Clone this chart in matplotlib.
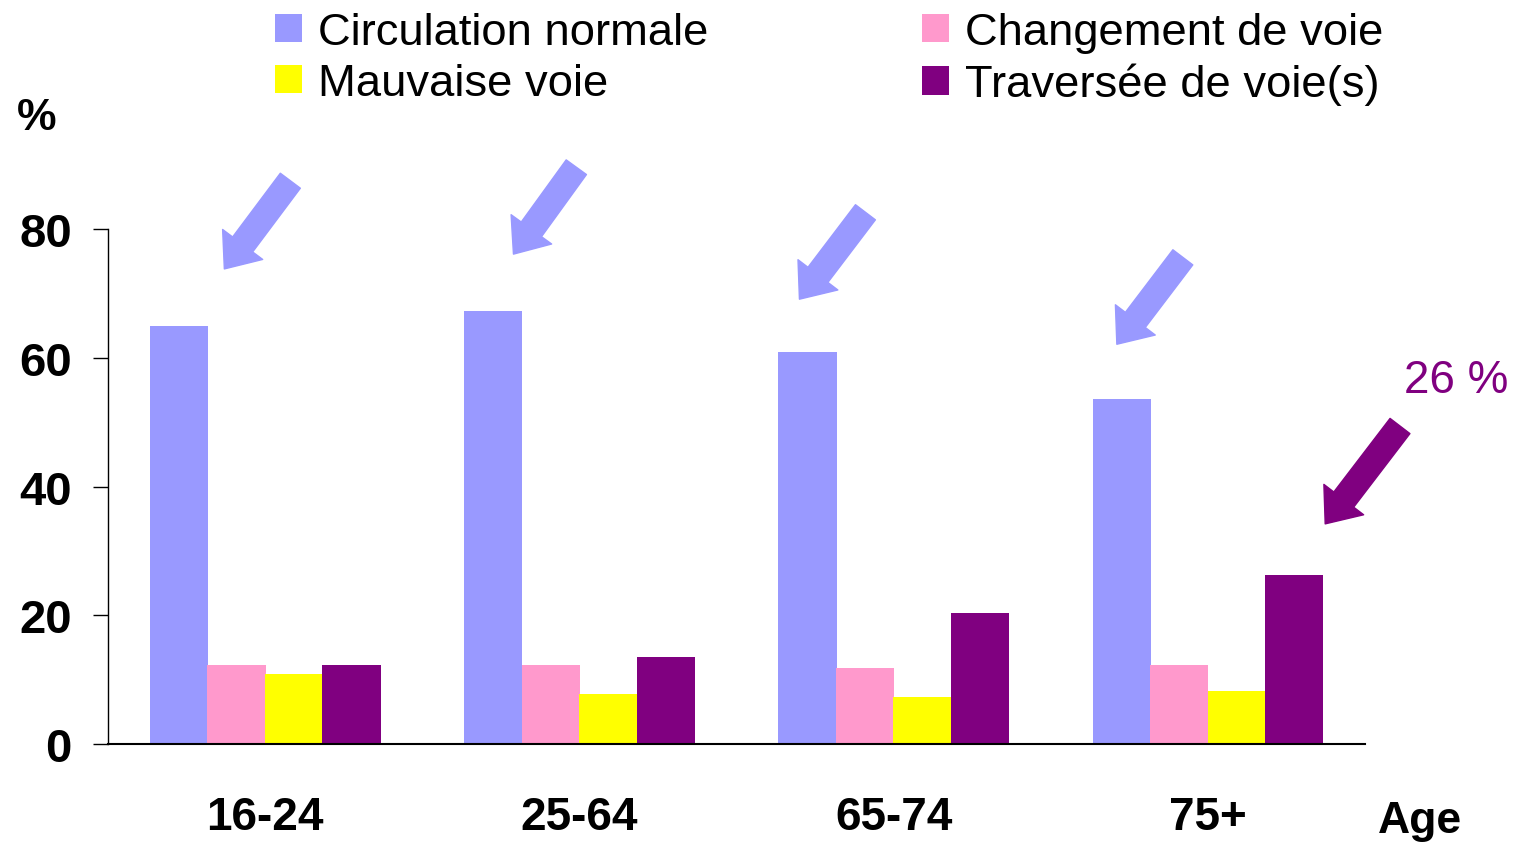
import matplotlib
matplotlib.use("Agg")
import matplotlib.pyplot as plt
import numpy as np

plt.rcParams['font.family'] = ['Liberation Sans', 'DejaVu Sans']

ages = ["16-24", "25-64", "65-74", "75+"]
series = ["Circulation normale", "Changement de voie", "Mauvaise voie", "Traversée de voie(s)"]
normale = [65.0, 67.3, 60.9, 53.6]
changement = [12.3, 12.3, 11.8, 12.3]
mauvaise = [10.9, 7.8, 7.3, 8.2]
traversee = [12.3, 13.5, 20.3, 26.3]
colors = ["#9999FF", "#FF99CC", "#FFFF00", "#800080"]

# arrows pointing at the bars (tail x, tail y, tip x, tip y) in data units
arrow_tails = [(0.08, 87.5), (0.99, 89.6), (1.91, 82.6), (2.92, 75.6)]
arrow_tips = [(-0.13, 73.8), (0.79, 76.1), (1.70, 69.1), (2.71, 62.1)]

fig = plt.figure(figsize=(15.2, 8.45), dpi=100)
ax = fig.add_axes([0.0711, 0.1183, 0.8270, 0.6095])

x = np.arange(len(ages))
w = 0.185
bars = []
for i, (vals, c) in enumerate(zip([normale, changement, mauvaise, traversee], colors)):
    b = ax.bar(x + (i - 1.5) * 0.183, vals, w, color=c, label=series[i])
    bars.append(b)

ax.set_xlim(-0.5, 3.5)
ax.set_ylim(0, 80)
ax.set_yticks([0, 20, 40, 60, 80])
ax.set_xticks(x)
ax.set_xticklabels(ages, fontsize=33, fontweight="bold")
ax.tick_params(axis="x", length=0, pad=37)
ax.tick_params(axis="y", length=11, width=1, direction="out", pad=15, labelsize=34)
for lab in ax.get_yticklabels():
    lab.set_fontweight("bold")
ax.spines["top"].set_visible(False)
ax.spines["right"].set_visible(False)
ax.spines["left"].set_linewidth(1)
ax.spines["bottom"].set_linewidth(1.5)

for (tx, ty), (hx, hy) in zip(arrow_tails, arrow_tips):
    ax.annotate("", xy=(hx, hy), xytext=(tx, ty), annotation_clip=False,
                arrowprops=dict(arrowstyle="simple,head_length=22,head_width=36,tail_width=18",
                                mutation_scale=1, color=colors[0], shrinkA=0, shrinkB=0))

ax.annotate("", xy=(3.373, 34.2), xytext=(3.611, 49.4), annotation_clip=False,
            arrowprops=dict(arrowstyle="simple,head_length=22,head_width=36,tail_width=18",
                            mutation_scale=1, color=colors[3], shrinkA=0, shrinkB=0))
ax.text(3.79, 56.5, "26 %", color=colors[3], fontsize=33, ha="center", va="center",
        clip_on=False)

fig.text(37 / 1520, 1 - 118 / 845, "%", fontsize=32, fontweight="bold", ha="center", va="center")
fig.text(1420 / 1520, 1 - 822 / 845, "Age", fontsize=32, fontweight="bold", ha="center", va="center")

handles = [bars[0], bars[2], bars[1], bars[3]]
labels = [series[0], series[2], series[1], series[3]]
fig.legend(handles, labels, loc="upper left", bbox_to_anchor=(0.154, 1.033), ncol=2,
           frameon=False, fontsize=32.7, handlelength=0.6, handleheight=0.6,
           handletextpad=0.35, columnspacing=4.7, labelspacing=0.22)

fig.savefig("out.png", dpi=100)
